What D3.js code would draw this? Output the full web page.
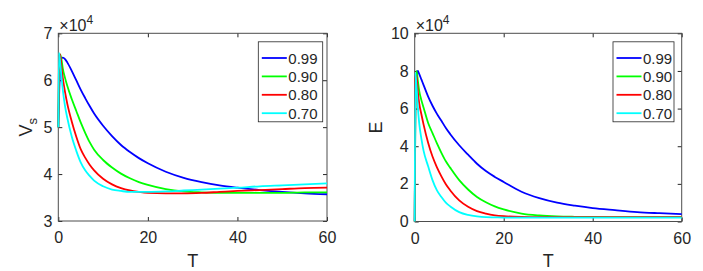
<!DOCTYPE html>
<head>
  <meta charset="utf-8">
  <script src="https://d3js.org/d3.v7.min.js"></script>
  <style>
    body { margin: 0; background: #fff; }
    text { font-family: "Liberation Sans", Arial, sans-serif; fill: #262626; }
  </style>
</head>
<body>
  <div id="chart"></div>
</body>
<script>

// legend entries and colours
var seriesNames = ["0.99", "0.90", "0.80", "0.70"];
var seriesColors = ["#0000ff", "#00ff00", "#ff0000", "#00ffff"];

// time grid (T) shared by both panels
var tGrid = [0, 0.15, 0.4, 0.7, 1, 1.5, 2, 3, 4, 5, 6, 7, 8, 10, 12, 14, 16, 18, 20, 24, 28, 32, 36, 40, 45, 50, 55, 60];

// left panel: Vs (x10^4)
var vs099 = [5.0, 5.6, 6.2, 6.47, 6.48, 6.45, 6.38, 6.2, 6.0, 5.8, 5.62, 5.45, 5.29, 5.03, 4.81, 4.62, 4.47, 4.34, 4.23, 4.05, 3.92, 3.83, 3.76, 3.71, 3.66, 3.62, 3.59, 3.57];
var vs090 = [5.0, 6.0, 6.55, 6.45, 6.25, 6.05, 5.88, 5.6, 5.35, 5.1, 4.88, 4.68, 4.52, 4.3, 4.14, 4.01, 3.91, 3.83, 3.77, 3.68, 3.63, 3.61, 3.6, 3.6, 3.6, 3.6, 3.61, 3.61];
var vs080 = [5.0, 6.3, 6.55, 6.28, 6.05, 5.75, 5.5, 5.12, 4.8, 4.53, 4.35, 4.2, 4.08, 3.9, 3.78, 3.7, 3.65, 3.62, 3.6, 3.59, 3.59, 3.6, 3.62, 3.64, 3.66, 3.68, 3.7, 3.71];
var vs070 = [5.0, 6.58, 6.4, 6.08, 5.8, 5.45, 5.2, 4.8, 4.5, 4.25, 4.08, 3.96, 3.86, 3.74, 3.67, 3.64, 3.62, 3.62, 3.62, 3.63, 3.65, 3.67, 3.69, 3.71, 3.74, 3.76, 3.78, 3.8];

// right panel: E (x10^4)
var e099 = [0, 6.5, 7.7, 8.0, 7.85, 7.55, 7.25, 6.65, 6.15, 5.72, 5.35, 4.97, 4.64, 4.05, 3.55, 3.07, 2.68, 2.37, 2.1, 1.58, 1.24, 1.0, 0.84, 0.71, 0.6, 0.5, 0.44, 0.39];
var e090 = [0, 6.0, 8.0, 7.5, 6.95, 6.45, 6.05, 5.25, 4.7, 4.15, 3.65, 3.2, 2.85, 2.2, 1.7, 1.3, 1.02, 0.8, 0.64, 0.42, 0.32, 0.27, 0.25, 0.24, 0.23, 0.23, 0.23, 0.23];
var e080 = [0, 7.5, 7.75, 6.9, 6.3, 5.7, 5.15, 4.2, 3.45, 2.88, 2.4, 1.98, 1.65, 1.12, 0.78, 0.55, 0.42, 0.33, 0.28, 0.24, 0.23, 0.23, 0.23, 0.23, 0.23, 0.23, 0.23, 0.23];
var e070 = [0, 7.9, 7.2, 6.1, 5.25, 4.4, 3.75, 2.95, 2.2, 1.65, 1.3, 1.0, 0.8, 0.5, 0.35, 0.27, 0.23, 0.22, 0.21, 0.21, 0.21, 0.21, 0.21, 0.21, 0.21, 0.21, 0.21, 0.21];

var xTicks = [0, 20, 40, 60];
var vsTicks = [3, 4, 5, 6, 7];
var eTicks = [0, 2, 4, 6, 8, 10];

var svg = d3.select("#chart")
  .append("svg")
    .attr("width", 703)
    .attr("height", 271);

function drawPanel(opt) {
  var x = d3.scaleLinear().domain([0, 60]).range([opt.left, opt.right]);
  var y = d3.scaleLinear().domain(opt.yDomain).range([opt.bottom, opt.top]);
  var g = svg.append("g");
  var fmt = d3.format("d");

  // bottom axis with labels, ticks pointing inward
  g.append("g")
    .attr("transform", "translate(0," + opt.bottom + ")")
    .call(d3.axisBottom(x).tickValues(xTicks).tickFormat(fmt).tickSizeInner(-4).tickSizeOuter(0).tickPadding(11))
    .call(function(a) { a.select(".domain").remove(); });
  g.append("g")
    .attr("transform", "translate(0," + opt.top + ")")
    .call(d3.axisTop(x).tickValues(xTicks).tickSizeInner(-4).tickSizeOuter(0).tickFormat(""))
    .call(function(a) { a.select(".domain").remove(); });

  g.append("g")
    .attr("transform", "translate(" + opt.left + ",0)")
    .call(d3.axisLeft(y).tickValues(opt.yTicks).tickFormat(fmt).tickSizeInner(-4).tickSizeOuter(0).tickPadding(6))
    .call(function(a) { a.select(".domain").remove(); });
  g.append("g")
    .attr("transform", "translate(" + opt.right + ",0)")
    .call(d3.axisRight(y).tickValues(opt.yTicks).tickSizeInner(-4).tickSizeOuter(0).tickFormat(""))
    .call(function(a) { a.select(".domain").remove(); });

  g.selectAll(".tick line").attr("stroke", "#262626");
  g.selectAll(".tick text").style("font-size", "16px").attr("fill", "#262626");

  // box
  g.append("rect")
    .attr("x", opt.left).attr("y", opt.top)
    .attr("width", opt.right - opt.left).attr("height", opt.bottom - opt.top)
    .attr("fill", "none").attr("stroke", "#4d4d4d").attr("stroke-width", 1);

  // curves
  var line = d3.line()
    .x(function(d) { return x(d[0]); })
    .y(function(d) { return y(d[1]); })
    .curve(d3.curveMonotoneX);

  opt.series.forEach(function(vals, i) {
    g.append("path")
      .datum(tGrid.map(function(t, j) { return [t, vals[j]]; }))
      .attr("fill", "none")
      .attr("stroke", seriesColors[i])
      .attr("stroke-width", 1.8)
      .attr("d", line);
  });

  // x10^4 multiplier
  var mult = g.append("text")
    .attr("x", opt.left + 1)
    .attr("y", opt.top - 2)
    .style("font-size", "16px");
  mult.append("tspan").text("\u00d710");
  mult.append("tspan").attr("dy", -7).style("font-size", "12px").text("4");

  // axis labels
  g.append("text")
    .attr("x", (opt.left + opt.right) / 2)
    .attr("y", 267)
    .attr("text-anchor", "middle")
    .style("font-size", "18px")
    .text("T");

  var yl = g.append("text")
    .attr("transform", "translate(" + opt.yLabelX + "," + ((opt.top + opt.bottom) / 2) + ") rotate(-90)")
    .attr("text-anchor", "middle")
    .style("font-size", "18px");
  yl.append("tspan").text(opt.yLabel);
  if (opt.yLabelSub) {
    yl.append("tspan").attr("dy", 5).style("font-size", "13px").text(opt.yLabelSub);
  }

  // legend
  var lg = g.append("g");
  lg.append("rect")
    .attr("x", opt.legX).attr("y", opt.top + 8.5)
    .attr("width", opt.legW).attr("height", 80)
    .attr("fill", "#fff").attr("stroke", "#262626").attr("stroke-width", 0.8);
  seriesNames.forEach(function(name, i) {
    var yy = opt.top + 24.7 + i * 18.4;
    lg.append("line")
      .attr("x1", opt.legX + 3.5).attr("x2", opt.legX + 28.5)
      .attr("y1", yy).attr("y2", yy)
      .attr("stroke", seriesColors[i]).attr("stroke-width", 1.8);
    lg.append("text")
      .attr("x", opt.legX + 30).attr("y", yy + 5.5)
      .style("font-size", "15px")
      .text(name);
  });
}

drawPanel({
  left: 58.3, right: 327, top: 33.3, bottom: 221,
  yDomain: [3, 7], yTicks: vsTicks,
  series: [vs099, vs090, vs080, vs070],
  yLabel: "V", yLabelSub: "s", yLabelX: 32,
  legX: 258.3, legW: 64.4
});

drawPanel({
  left: 414.7, right: 681.7, top: 33.3, bottom: 221.5,
  yDomain: [0, 10], yTicks: eTicks,
  series: [e099, e090, e080, e070],
  yLabel: "E", yLabelX: 382,
  legX: 613, legW: 61
});

</script>
